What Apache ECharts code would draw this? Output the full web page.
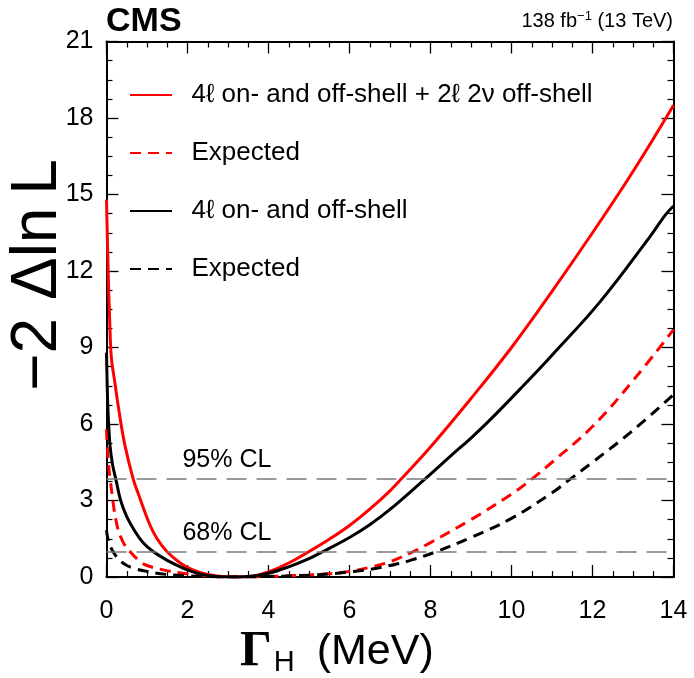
<!DOCTYPE html>
<html>
<head>
<meta charset="utf-8">
<script src="https://cdn.jsdelivr.net/npm/echarts@6/dist/echarts.min.js"></script>
<style>
html,body{margin:0;padding:0;background:#fff;}
#c{width:694px;height:678px;}
</style>
</head>
<body>
<div id="c"></div>
<script>
// ---- data ----
var seriesNames = ['4ℓ on- and off-shell + 2ℓ 2ν off-shell', 'Expected', '4ℓ on- and off-shell', 'Expected '];

var gammaObsComb = [0, 0.04, 0.08, 0.12, 0.2, 0.3, 0.45, 0.66, 0.8, 1.07, 1.25, 1.49, 1.82, 2.1, 2.5, 3.0, 3.3, 3.6, 4.0, 4.5, 5.0, 5.5, 6.0, 6.5, 7.0, 7.25, 8.0, 9.0, 10.0, 11.0, 12.0, 13.0, 14.0];
var dnllObsComb  = [14.8, 12.0, 10.0, 8.6, 7.7, 6.6, 5.2, 3.84, 3.2, 2.05, 1.5, 1.0, 0.55, 0.3, 0.1, 0.01, 0.0, 0.03, 0.2, 0.55, 1.0, 1.48, 2.02, 2.66, 3.38, 3.8, 5.1, 7.0, 9.0, 11.2, 13.5, 15.9, 18.5];

var gammaExpComb = [0, 0.03, 0.09, 0.25, 0.4, 0.58, 0.8, 1.0, 1.49, 2.0, 2.5, 3.0, 3.5, 4.0, 5.0, 5.5, 6.0, 6.5, 7.0, 7.58, 8.0, 9.0, 10.0, 10.5, 11.0, 12.0, 13.0, 14.0];
var dnllExpComb  = [5.8, 4.8, 3.84, 2.1, 1.4, 1.0, 0.65, 0.45, 0.25, 0.12, 0.04, 0.0, 0.0, 0.02, 0.08, 0.13, 0.22, 0.38, 0.6, 1.0, 1.35, 2.25, 3.25, 3.84, 4.5, 5.9, 7.7, 9.7];

var gammaObs4l = [0, 0.03, 0.06, 0.09, 0.15, 0.23, 0.35, 0.5, 0.7, 0.9, 1.15, 1.5, 1.82, 2.1, 2.5, 3.0, 3.5, 4.0, 4.5, 5.0, 5.35, 6.0, 6.5, 7.0, 7.86, 8.5, 9.0, 9.47, 10.29, 11.0, 12.19, 13.42, 13.8, 14.0];
var dnllObs4l  = [8.8, 6.8, 5.8, 5.1, 4.4, 3.84, 3.0, 2.37, 1.8, 1.35, 1.0, 0.65, 0.4, 0.22, 0.06, 0.0, 0.02, 0.15, 0.4, 0.72, 1.0, 1.55, 2.05, 2.65, 3.84, 4.75, 5.45, 6.16, 7.5, 8.7, 10.8, 13.35, 14.2, 14.55];

var gammaExp4l = [0, 0.05, 0.16, 0.3, 0.45, 0.66, 1.0, 1.49, 2.0, 2.5, 3.0, 4.0, 5.0, 5.5, 6.0, 6.5, 7.0, 7.5, 8.15, 9.0, 10.0, 11.0, 11.45, 12.0, 13.0, 14.0];
var dnllExp4l  = [1.84, 1.4, 1.0, 0.7, 0.5, 0.35, 0.22, 0.1, 0.05, 0.02, 0.0, 0.02, 0.07, 0.12, 0.2, 0.3, 0.45, 0.65, 1.0, 1.55, 2.3, 3.3, 3.84, 4.5, 5.75, 7.15];

var clLevels = [3.84, 1.0];
var clLabels = ['95% CL', '68% CL'];
var xTicks = {min: 0, max: 14, interval: 2};
var yTicks = {min: 0, max: 21, interval: 3};

function pairs(xs, ys){ return xs.map(function(x,i){ return [x, ys[i]]; }); }

var chart = echarts.init(document.getElementById('c'), null, {renderer:'canvas'});
var FONT = 'Liberation Sans, Arial, Helvetica, sans-serif';

function mkX(pos, labels){
  return {
    type:'value', position: pos, min: xTicks.min, max: xTicks.max, interval: xTicks.interval,
    axisLine:{show:true, onZero:false, lineStyle:{color:'#000', width:2}},
    axisTick:{show:true, inside:true, length:12, lineStyle:{color:'#000', width:1.3}},
    minorTick:{show:true, splitNumber:4, length:6, lineStyle:{color:'#000', width:1.2}},
    splitLine:{show:false},
    axisLabel:{show:labels, color:'#000', fontSize:25, fontFamily:FONT, margin:22}
  };
}
function mkY(pos, labels){
  return {
    type:'value', position: pos, min: yTicks.min, max: yTicks.max, interval: yTicks.interval,
    axisLine:{show:true, onZero:false, lineStyle:{color:'#000', width:2}},
    axisTick:{show:true, inside:true, length:12, lineStyle:{color:'#000', width:1.3}},
    minorTick:{show:true, splitNumber:4, length:6, lineStyle:{color:'#000', width:1.2}},
    splitLine:{show:false},
    axisLabel:{show:labels, color:'#000', fontSize:25, fontFamily:FONT, margin:13}
  };
}

function lineSeries(name, data, color, dashed){
  return {
    name: name, type:'line', data: data, showSymbol:false, symbol:'none',
    smooth: 0.4, clip:true,
    lineStyle:{color: color, width:3, type: dashed ? [11,7] : 'solid'},
    itemStyle:{color: color},
    emphasis:{disabled:true}, animation:false, z: 3
  };
}

var series = [
  lineSeries(seriesNames[0], pairs(gammaObsComb, dnllObsComb), '#ff0000', false),
  lineSeries(seriesNames[1], pairs(gammaExpComb, dnllExpComb), '#ff0000', true),
  lineSeries(seriesNames[2], pairs(gammaObs4l, dnllObs4l), '#000000', false),
  lineSeries(seriesNames[3], pairs(gammaExp4l, dnllExp4l), '#000000', true)
];
series[3].markLine = {
  silent:true, symbol:['none','none'], animation:false,
  label:{show:false},
  lineStyle:{color:'#7a7a7a', width:1.5, type:[20,10]},
  data: clLevels.map(function(v){ return {yAxis: v}; })
};

chart.setOption({
  animation:false,
  backgroundColor:'#fff',
  grid:{left:106.5, right:20.5, top:41.5, bottom:101, containLabel:false},
  xAxis:[mkX('bottom', true), mkX('top', false)],
  yAxis:[mkY('left', true), mkY('right', false)],
  legend:{
    show:true, orient:'vertical', left:124, top:77,
    itemWidth:42, itemHeight:14, itemGap:32,
    selectedMode:false,
    itemStyle:{opacity:0},
    formatter: function(n){ return '  ' + n; },
    textStyle:{fontSize:26, fontFamily:FONT, color:'#000', lineHeight:26},
    data: seriesNames.map(function(n){ return {name:n}; })
  },
  series: series
});

// CL labels and other text
function addTexts(){
  var els = [];
  clLevels.forEach(function(v, i){
    var p = chart.convertToPixel({gridIndex:0}, [1.9, v]);
    els.push({type:'text', left: p[0]-1, top: p[1]-31,
      style:{text: clLabels[i], fontSize:25, fontFamily:FONT, fill:'#000'}});
  });
  els.push({type:'text', left:106, top:5,
    style:{text:'CMS', font:'bold 34px ' + FONT, fill:'#000'}});
  els.push({type:'text', right:21, top:10,
    style:{rich:{a:{fontSize:20, fontFamily:FONT, fill:'#000'}, s:{fontSize:13, fontFamily:FONT, fill:'#000', verticalAlign:'top', padding:[0,0,9,0]}},
      text:'{a|138 fb}{s|\u22121}{a| (13 TeV)}'}});
  els.push({type:'text', x:38, y:275, rotation:Math.PI/2,
    style:{text:'\u22122 \u0394ln\u2009L', font:'64px ' + FONT, fill:'#000', align:'center', verticalAlign:'middle'}});
  els.push({type:'text', x:240, y:652,
    style:{rich:{
      g:{fontSize:50, fontFamily:'Liberation Serif, Times New Roman, serif', fontWeight:'bold', fill:'#000'},
      h:{fontSize:29, fontFamily:FONT, fill:'#000', padding:[22,0,0,2]},
      t:{fontSize:43, fontFamily:FONT, fill:'#000', padding:[0,0,0,10]}
    }, text:'{g|\u0393}{h|H}{t| (MeV)}', verticalAlign:'middle'}});
  chart.setOption({graphic:{elements:els}});
}
addTexts();
</script>
</body>
</html>
